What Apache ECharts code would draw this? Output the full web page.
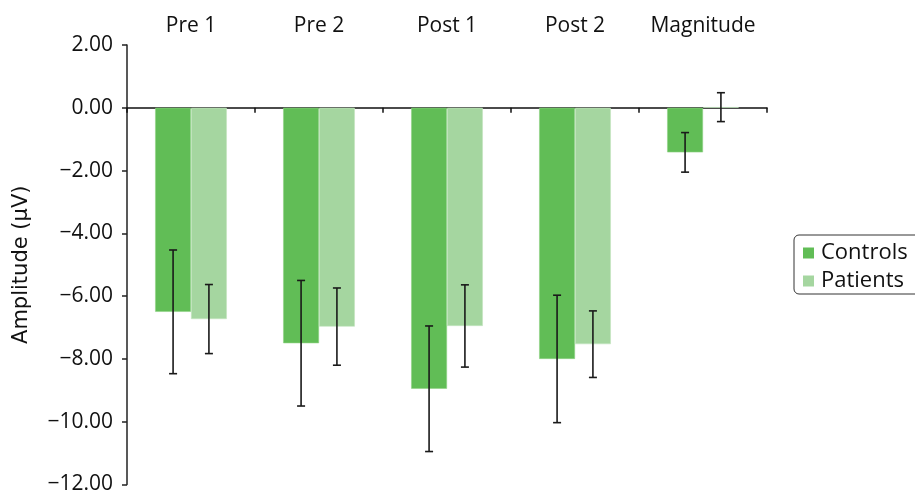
<!DOCTYPE html>
<html>
<head>
<meta charset="utf-8">
<script src="https://cdn.jsdelivr.net/npm/echarts@6/dist/echarts.min.js"></script>
<style>html,body{margin:0;padding:0;background:#fff}#c{width:915px;height:495px}</style>
</head>
<body>
<div id="c"></div>
<script>
const categories = ['Pre 1', 'Pre 2', 'Post 1', 'Post 2', 'Magnitude'];
const controls = [-6.5, -7.5, -8.95, -8.0, -1.42];
const patients = [-6.73, -6.97, -6.95, -7.53, 0.02];
const controlsErr = [1.97, 2.0, 2.0, 2.03, 0.63];
const patientsErr = [1.1, 1.23, 1.31, 1.06, 0.46];
const yTicks = { min: -12, max: 2, interval: 2 };

const FONT = '"Open Sans", "Noto Sans", sans-serif';
const NAME_FONT = '"DejaVu Sans", "Open Sans", sans-serif';
const BAR_W = 0.28;

function errSeries(vals, errs, side) {
  return {
    type: 'custom',
    xAxisIndex: 0,
    z: 10,
    silent: true,
    data: vals.map((v, i) => [i, v, errs[i]]),
    renderItem: function (params, api) {
      const i = api.value(0), v = api.value(1), e = api.value(2);
      const catW = api.size([1, 0])[0];
      const dx = side * catW * BAR_W / 2;
      const top = api.coord([i, v + e]);
      const bot = api.coord([i, v - e]);
      const x = top[0] + dx;
      const cap = 4;
      const st = { stroke: '#1a1a1a', lineWidth: 1.6 };
      return {
        type: 'group',
        children: [
          { type: 'line', shape: { x1: x, y1: top[1], x2: x, y2: bot[1] }, style: st },
          { type: 'line', shape: { x1: x - cap, y1: top[1], x2: x + cap, y2: top[1] }, style: st },
          { type: 'line', shape: { x1: x - cap, y1: bot[1], x2: x + cap, y2: bot[1] }, style: st }
        ]
      };
    }
  };
}

const chart = echarts.init(document.getElementById('c'));
chart.setOption({
  animation: false,
  textStyle: { fontFamily: FONT },
  grid: { left: 127, right: 148, top: 45, bottom: 9, containLabel: false },
  legend: {
    orient: 'vertical',
    left: 794,
    top: 235,
    itemWidth: 11,
    itemHeight: 11,
    itemGap: 6,
    padding: [7, 14, 2, 9],
    borderColor: '#333',
    borderWidth: 1,
    borderRadius: 5,
    icon: 'rect',
    itemStyle: { borderWidth: 0 },
    textStyle: { fontFamily: FONT, fontSize: 22, color: '#111', padding: [0, 0, 0, 2] },
    data: ['Controls', 'Patients']
  },
  xAxis: [
    {
      type: 'category',
      data: categories,
      position: 'bottom',
      axisLine: { onZero: true, lineStyle: { color: '#111', width: 1.5 } },
      axisTick: { show: true, length: 5, lineStyle: { color: '#111', width: 1.5 } },
      axisLabel: { show: false },
      splitLine: { show: false }
    },
    {
      type: 'category',
      data: categories,
      position: 'top',
      axisLine: { show: false, onZero: false },
      axisTick: { show: false },
      axisLabel: { show: true, interval: 0, margin: 8, fontSize: 21, color: '#111', fontFamily: FONT },
      splitLine: { show: false }
    }
  ],
  yAxis: {
    type: 'value',
    min: yTicks.min,
    max: yTicks.max,
    interval: yTicks.interval,
    name: 'Amplitude (µV)',
    nameLocation: 'middle',
    nameGap: 95,
    nameRotate: 90,
    nameTextStyle: { fontSize: 21, color: '#111', fontFamily: NAME_FONT },
    axisLine: { show: true, lineStyle: { color: '#222', width: 1.5 } },
    axisTick: { show: true, length: 5, lineStyle: { color: '#222', width: 1.5 } },
    axisLabel: {
      fontSize: 21, color: '#111', margin: 14, fontFamily: FONT,
      formatter: v => v.toFixed(2).replace('-', '\u2212')
    },
    splitLine: { show: false }
  },
  series: [
    {
      name: 'Controls', type: 'bar', xAxisIndex: 0,
      data: controls,
      barWidth: (BAR_W * 100) + '%', barGap: '0%',
      itemStyle: { color: '#61bd56', borderColor: '#8fd285', borderWidth: 0.6 }
    },
    {
      name: 'Patients', type: 'bar', xAxisIndex: 0,
      data: patients,
      barWidth: (BAR_W * 100) + '%', barGap: '0%',
      itemStyle: { color: '#a5d6a0', borderColor: '#c4e5c0', borderWidth: 0.6 }
    },
    errSeries(controls, controlsErr, -1),
    errSeries(patients, patientsErr, 1)
  ]
});
</script>
</body>
</html>
